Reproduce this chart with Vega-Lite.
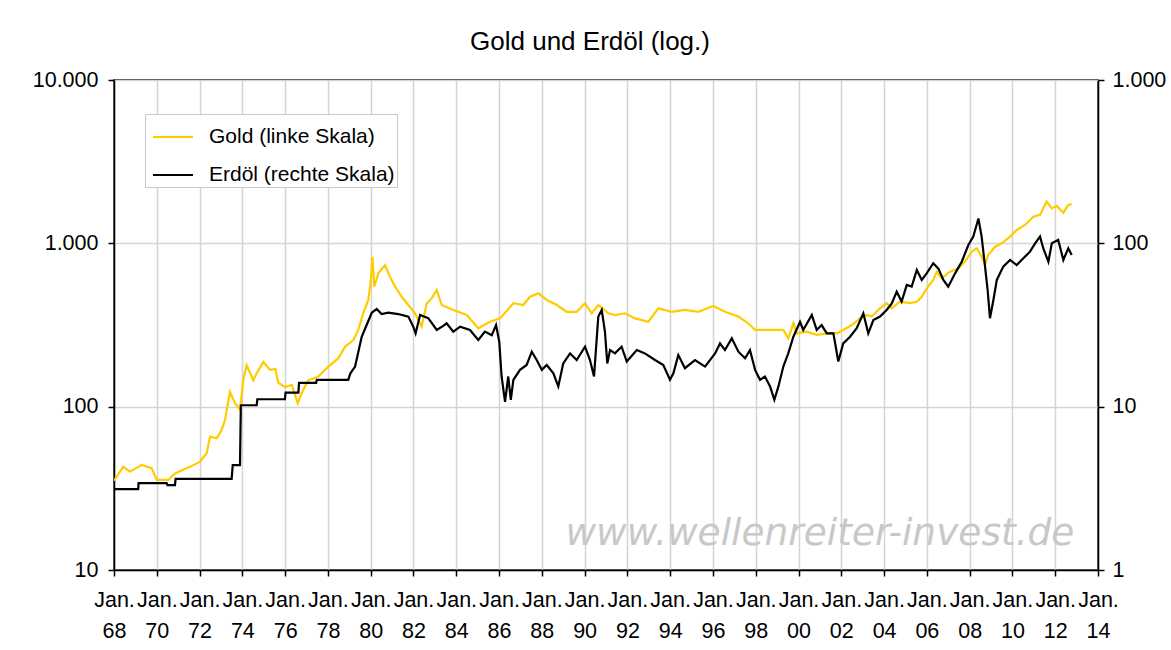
{
  "$schema": "https://vega.github.io/schema/vega-lite/v6.json",
  "width": 984,
  "height": 490,
  "autosize": "none",
  "padding": {"left": 114, "top": 80, "right": 73, "bottom": 80},
  "background": "white",
  "title": {"text": "Gold und Erdöl (log.)", "font": "Liberation Sans", "fontSize": 26, "fontWeight": "normal", "color": "black", "anchor": "middle", "offset": 14, "dx": -16},
  "config": {
    "view": {"stroke": "black", "strokeWidth": 1.5},
    "font": "Liberation Sans",
    "axis": {"labelFont": "Liberation Sans", "labelFontSize": 21.5, "labelColor": "black", "domainColor": "black", "domainWidth": 1.5, "tickColor": "black", "tickWidth": 1.5, "tickSize": 6, "gridColor": "#d4d4d4", "gridWidth": 1.5, "title": null, "labelOverlap": false, "labelFlush": false, "labelBound": false}
  },
  "datasets": {
    "gold": [
      {"year": 1968.00, "price": 35.2}, {"year": 1968.43, "price": 42.8}, {"year": 1968.75, "price": 40}, {"year": 1969.29, "price": 44}, {"year": 1969.76, "price": 42}, {"year": 1970.00, "price": 35.6}, {"year": 1970.54, "price": 35.6}, {"year": 1970.85, "price": 39}, {"year": 1971.55, "price": 42.8}, {"year": 1972.02, "price": 46}, {"year": 1972.33, "price": 51.9}, {"year": 1972.49, "price": 65.5}, {"year": 1972.80, "price": 64}, {"year": 1973.03, "price": 72}, {"year": 1973.19, "price": 82.8}, {"year": 1973.42, "price": 123}, {"year": 1973.66, "price": 105}, {"year": 1973.89, "price": 95.5}, {"year": 1974.04, "price": 145}, {"year": 1974.20, "price": 180}, {"year": 1974.51, "price": 145}, {"year": 1974.67, "price": 160}, {"year": 1974.98, "price": 188}, {"year": 1975.29, "price": 168}, {"year": 1975.55, "price": 170}, {"year": 1975.68, "price": 140}, {"year": 1975.99, "price": 132}, {"year": 1976.31, "price": 136}, {"year": 1976.59, "price": 105}, {"year": 1976.77, "price": 121}, {"year": 1977.08, "price": 145}, {"year": 1977.55, "price": 153}, {"year": 1978.02, "price": 176}, {"year": 1978.49, "price": 198}, {"year": 1978.80, "price": 233}, {"year": 1979.19, "price": 256}, {"year": 1979.42, "price": 295}, {"year": 1979.65, "price": 373}, {"year": 1979.89, "price": 450}, {"year": 1980.01, "price": 597}, {"year": 1980.08, "price": 828}, {"year": 1980.17, "price": 543}, {"year": 1980.36, "price": 656}, {"year": 1980.67, "price": 736}, {"year": 1980.90, "price": 625}, {"year": 1981.14, "price": 543}, {"year": 1981.45, "price": 471}, {"year": 1981.76, "price": 419}, {"year": 1982.07, "price": 373}, {"year": 1982.38, "price": 309}, {"year": 1982.62, "price": 430}, {"year": 1982.85, "price": 460}, {"year": 1983.09, "price": 518}, {"year": 1983.32, "price": 419}, {"year": 1983.86, "price": 391}, {"year": 1984.49, "price": 364}, {"year": 1985.03, "price": 302}, {"year": 1985.58, "price": 331}, {"year": 1986.05, "price": 347}, {"year": 1986.67, "price": 430}, {"year": 1987.13, "price": 419}, {"year": 1987.45, "price": 471}, {"year": 1987.84, "price": 494}, {"year": 1988.23, "price": 450}, {"year": 1988.70, "price": 419}, {"year": 1989.16, "price": 381}, {"year": 1989.63, "price": 381}, {"year": 1990.02, "price": 430}, {"year": 1990.33, "price": 373}, {"year": 1990.64, "price": 419}, {"year": 1991.11, "price": 373}, {"year": 1991.42, "price": 364}, {"year": 1991.89, "price": 373}, {"year": 1992.36, "price": 347}, {"year": 1992.98, "price": 331}, {"year": 1993.45, "price": 400}, {"year": 1994.07, "price": 381}, {"year": 1994.69, "price": 391}, {"year": 1995.32, "price": 381}, {"year": 1996.02, "price": 413}, {"year": 1996.56, "price": 381}, {"year": 1997.19, "price": 356}, {"year": 1997.65, "price": 324}, {"year": 1997.97, "price": 295}, {"year": 1998.43, "price": 295}, {"year": 1998.82, "price": 295}, {"year": 1999.29, "price": 295}, {"year": 1999.52, "price": 262}, {"year": 1999.76, "price": 324}, {"year": 1999.92, "price": 281}, {"year": 2000.38, "price": 288}, {"year": 2000.85, "price": 275}, {"year": 2001.39, "price": 281}, {"year": 2001.79, "price": 281}, {"year": 2002.09, "price": 295}, {"year": 2002.49, "price": 316}, {"year": 2002.87, "price": 347}, {"year": 2003.19, "price": 364}, {"year": 2003.42, "price": 356}, {"year": 2003.81, "price": 400}, {"year": 2004.12, "price": 430}, {"year": 2004.36, "price": 400}, {"year": 2004.74, "price": 439}, {"year": 2005.21, "price": 430}, {"year": 2005.53, "price": 439}, {"year": 2005.76, "price": 471}, {"year": 2005.99, "price": 530}, {"year": 2006.30, "price": 597}, {"year": 2006.46, "price": 670}, {"year": 2006.69, "price": 611}, {"year": 2007.08, "price": 670}, {"year": 2007.47, "price": 703}, {"year": 2007.78, "price": 773}, {"year": 2008.10, "price": 889}, {"year": 2008.33, "price": 933}, {"year": 2008.56, "price": 828}, {"year": 2008.72, "price": 740}, {"year": 2008.87, "price": 850}, {"year": 2009.19, "price": 953}, {"year": 2009.50, "price": 1000}, {"year": 2009.89, "price": 1099}, {"year": 2010.20, "price": 1208}, {"year": 2010.59, "price": 1295}, {"year": 2010.98, "price": 1456}, {"year": 2011.29, "price": 1493}, {"year": 2011.60, "price": 1799}, {"year": 2011.84, "price": 1636}, {"year": 2012.07, "price": 1696}, {"year": 2012.38, "price": 1541}, {"year": 2012.61, "price": 1718}, {"year": 2012.77, "price": 1742}
    ],
    "oil": [
      {"year": 1968.00, "price": 3.13}, {"year": 1969.13, "price": 3.13}, {"year": 1969.15, "price": 3.4}, {"year": 1970.46, "price": 3.4}, {"year": 1970.50, "price": 3.31}, {"year": 1970.85, "price": 3.31}, {"year": 1970.88, "price": 3.61}, {"year": 1973.50, "price": 3.61}, {"year": 1973.55, "price": 4.39}, {"year": 1973.89, "price": 4.39}, {"year": 1973.93, "price": 10.2}, {"year": 1974.67, "price": 10.2}, {"year": 1974.70, "price": 11.1}, {"year": 1975.99, "price": 11.1}, {"year": 1976.02, "price": 12.2}, {"year": 1976.62, "price": 12.2}, {"year": 1976.65, "price": 14.0}, {"year": 1977.45, "price": 14.0}, {"year": 1977.48, "price": 14.6}, {"year": 1978.95, "price": 14.6}, {"year": 1979.05, "price": 16.0}, {"year": 1979.27, "price": 17.6}, {"year": 1979.58, "price": 26.8}, {"year": 1979.81, "price": 31.6}, {"year": 1980.05, "price": 37.6}, {"year": 1980.28, "price": 39.6}, {"year": 1980.51, "price": 36.9}, {"year": 1980.82, "price": 37.6}, {"year": 1981.29, "price": 36.9}, {"year": 1981.76, "price": 35.6}, {"year": 1981.99, "price": 30.9}, {"year": 1982.10, "price": 28.1}, {"year": 1982.31, "price": 36.4}, {"year": 1982.69, "price": 34.8}, {"year": 1983.09, "price": 29.5}, {"year": 1983.39, "price": 31.2}, {"year": 1983.55, "price": 32.4}, {"year": 1983.86, "price": 28.8}, {"year": 1984.18, "price": 30.9}, {"year": 1984.64, "price": 29.5}, {"year": 1985.03, "price": 25.6}, {"year": 1985.34, "price": 28.8}, {"year": 1985.66, "price": 27.4}, {"year": 1985.86, "price": 31.6}, {"year": 1986.01, "price": 25}, {"year": 1986.12, "price": 15.3}, {"year": 1986.28, "price": 10.7}, {"year": 1986.43, "price": 15.3}, {"year": 1986.55, "price": 11.0}, {"year": 1986.67, "price": 14.6}, {"year": 1986.98, "price": 16.8}, {"year": 1987.29, "price": 18.0}, {"year": 1987.53, "price": 21.7}, {"year": 1987.76, "price": 19.3}, {"year": 1988.00, "price": 16.8}, {"year": 1988.23, "price": 18.0}, {"year": 1988.54, "price": 16.0}, {"year": 1988.77, "price": 13.3}, {"year": 1989.00, "price": 18.4}, {"year": 1989.32, "price": 21.2}, {"year": 1989.63, "price": 19.3}, {"year": 1990.02, "price": 23.3}, {"year": 1990.25, "price": 19.3}, {"year": 1990.44, "price": 15.3}, {"year": 1990.64, "price": 35.6}, {"year": 1990.80, "price": 39.1}, {"year": 1990.95, "price": 28.8}, {"year": 1991.06, "price": 18.4}, {"year": 1991.19, "price": 22.2}, {"year": 1991.42, "price": 21.2}, {"year": 1991.73, "price": 23.3}, {"year": 1991.97, "price": 18.9}, {"year": 1992.44, "price": 22.2}, {"year": 1992.82, "price": 21.2}, {"year": 1993.29, "price": 19.3}, {"year": 1993.68, "price": 18.0}, {"year": 1993.99, "price": 14.6}, {"year": 1994.15, "price": 16.0}, {"year": 1994.38, "price": 20.7}, {"year": 1994.69, "price": 17.2}, {"year": 1995.16, "price": 19.3}, {"year": 1995.63, "price": 17.6}, {"year": 1996.10, "price": 21.2}, {"year": 1996.33, "price": 24.4}, {"year": 1996.56, "price": 22.2}, {"year": 1996.88, "price": 26.2}, {"year": 1997.19, "price": 21.7}, {"year": 1997.50, "price": 19.8}, {"year": 1997.73, "price": 22.2}, {"year": 1997.97, "price": 16.8}, {"year": 1998.20, "price": 14.6}, {"year": 1998.43, "price": 15.3}, {"year": 1998.67, "price": 13.3}, {"year": 1998.87, "price": 11.0}, {"year": 1999.06, "price": 13.3}, {"year": 1999.29, "price": 17.6}, {"year": 1999.52, "price": 21.2}, {"year": 1999.76, "price": 26.8}, {"year": 2000.07, "price": 33.1}, {"year": 2000.22, "price": 29.5}, {"year": 2000.62, "price": 36.4}, {"year": 2000.85, "price": 29.5}, {"year": 2001.08, "price": 31.6}, {"year": 2001.32, "price": 28.1}, {"year": 2001.63, "price": 28.1}, {"year": 2001.86, "price": 18.9}, {"year": 2002.09, "price": 24.4}, {"year": 2002.41, "price": 26.8}, {"year": 2002.72, "price": 30.2}, {"year": 2003.03, "price": 37.3}, {"year": 2003.26, "price": 28.1}, {"year": 2003.50, "price": 33.9}, {"year": 2003.81, "price": 35.6}, {"year": 2004.12, "price": 39.1}, {"year": 2004.36, "price": 42.9}, {"year": 2004.59, "price": 50.6}, {"year": 2004.82, "price": 44.0}, {"year": 2005.06, "price": 55.6}, {"year": 2005.29, "price": 54.3}, {"year": 2005.53, "price": 68.7}, {"year": 2005.76, "price": 59.7}, {"year": 2005.99, "price": 65.5}, {"year": 2006.30, "price": 75.5}, {"year": 2006.54, "price": 70}, {"year": 2006.77, "price": 59.7}, {"year": 2007.00, "price": 54.3}, {"year": 2007.32, "price": 65.5}, {"year": 2007.63, "price": 77.2}, {"year": 2007.94, "price": 97.7}, {"year": 2008.17, "price": 110}, {"year": 2008.41, "price": 142}, {"year": 2008.56, "price": 110}, {"year": 2008.72, "price": 72}, {"year": 2008.84, "price": 51.8}, {"year": 2008.95, "price": 34.8}, {"year": 2009.11, "price": 45}, {"year": 2009.27, "price": 59.7}, {"year": 2009.57, "price": 72}, {"year": 2009.89, "price": 79.1}, {"year": 2010.20, "price": 73.6}, {"year": 2010.51, "price": 81}, {"year": 2010.82, "price": 88.9}, {"year": 2011.06, "price": 100}, {"year": 2011.29, "price": 110}, {"year": 2011.44, "price": 93.3}, {"year": 2011.68, "price": 77.2}, {"year": 2011.84, "price": 100}, {"year": 2012.14, "price": 105}, {"year": 2012.38, "price": 79.1}, {"year": 2012.61, "price": 93.3}, {"year": 2012.77, "price": 84.9}
    ],
    "watermark": [{"label": "www.wellenreiter-invest.de"}]
  },
  "layer": [
    {
      "data": {"name": "watermark"},
      "mark": {"type": "text", "font": "DejaVu Sans", "fontStyle": "italic", "fontSize": 37.5, "color": "#c8c8c8", "align": "center", "baseline": "alphabetic"},
      "encoding": {
        "x": {"datum": 2001, "type": "quantitative", "scale": {"domain": [1968, 2014], "nice": false, "zero": false},
          "axis": {"values": [1968, 1970, 1972, 1974, 1976, 1978, 1980, 1982, 1984, 1986, 1988, 1990, 1992, 1994, 1996, 1998, 2000, 2002, 2004, 2006, 2008, 2010, 2012, 2014], "format": "d", "labelExpr": "['Jan.', substring(datum.label, 2, 4)]", "labelLineHeight": 31, "labelPadding": 13, "grid": true}},
        "y": {"datum": 14.2, "type": "quantitative", "scale": {"type": "log", "domain": [10, 10000], "nice": false}, "axis": null},
        "text": {"field": "label", "type": "nominal"}
      }
    },
    {
      "data": {"name": "gold"},
      "mark": {"type": "line", "strokeWidth": 2.2, "clip": true},
      "encoding": {
        "x": {"field": "year", "type": "quantitative"},
        "y": {"field": "price", "type": "quantitative", "scale": {"type": "log", "domain": [10, 10000], "nice": false},
          "axis": {"orient": "left", "values": [10, 100, 1000, 10000], "labelExpr": "replace(format(datum.value, ','), ',', '.')", "grid": true, "labelPadding": 10}},
        "color": {"datum": "Gold (linke Skala)", "type": "nominal",
          "scale": {"domain": ["Gold (linke Skala)", "Erdöl (rechte Skala)"], "range": ["#FFCC00", "#000000"]},
          "legend": {"orient": "none", "legendX": 31, "legendY": 34, "title": null, "symbolType": "stroke", "symbolSize": 1600, "symbolStrokeWidth": 2, "symbolOffset": 5, "labelFont": "Liberation Sans", "labelFontSize": 21, "labelColor": "black", "labelOffset": 15, "labelLimit": 400, "rowPadding": 7, "padding": 2, "fillColor": "white", "strokeColor": "#c8c8c8"}}
      }
    },
    {
      "data": {"name": "oil"},
      "mark": {"type": "line", "strokeWidth": 2.2, "clip": true},
      "encoding": {
        "x": {"field": "year", "type": "quantitative"},
        "y": {"field": "price", "type": "quantitative", "scale": {"type": "log", "domain": [1, 1000], "nice": false},
          "axis": {"orient": "right", "values": [1, 10, 100, 1000], "labelExpr": "replace(format(datum.value, ','), ',', '.')", "grid": false, "labelPadding": 8}},
        "color": {"datum": "Erdöl (rechte Skala)", "type": "nominal"}
      }
    }
  ],
  "resolve": {"scale": {"y": "independent"}}
}
